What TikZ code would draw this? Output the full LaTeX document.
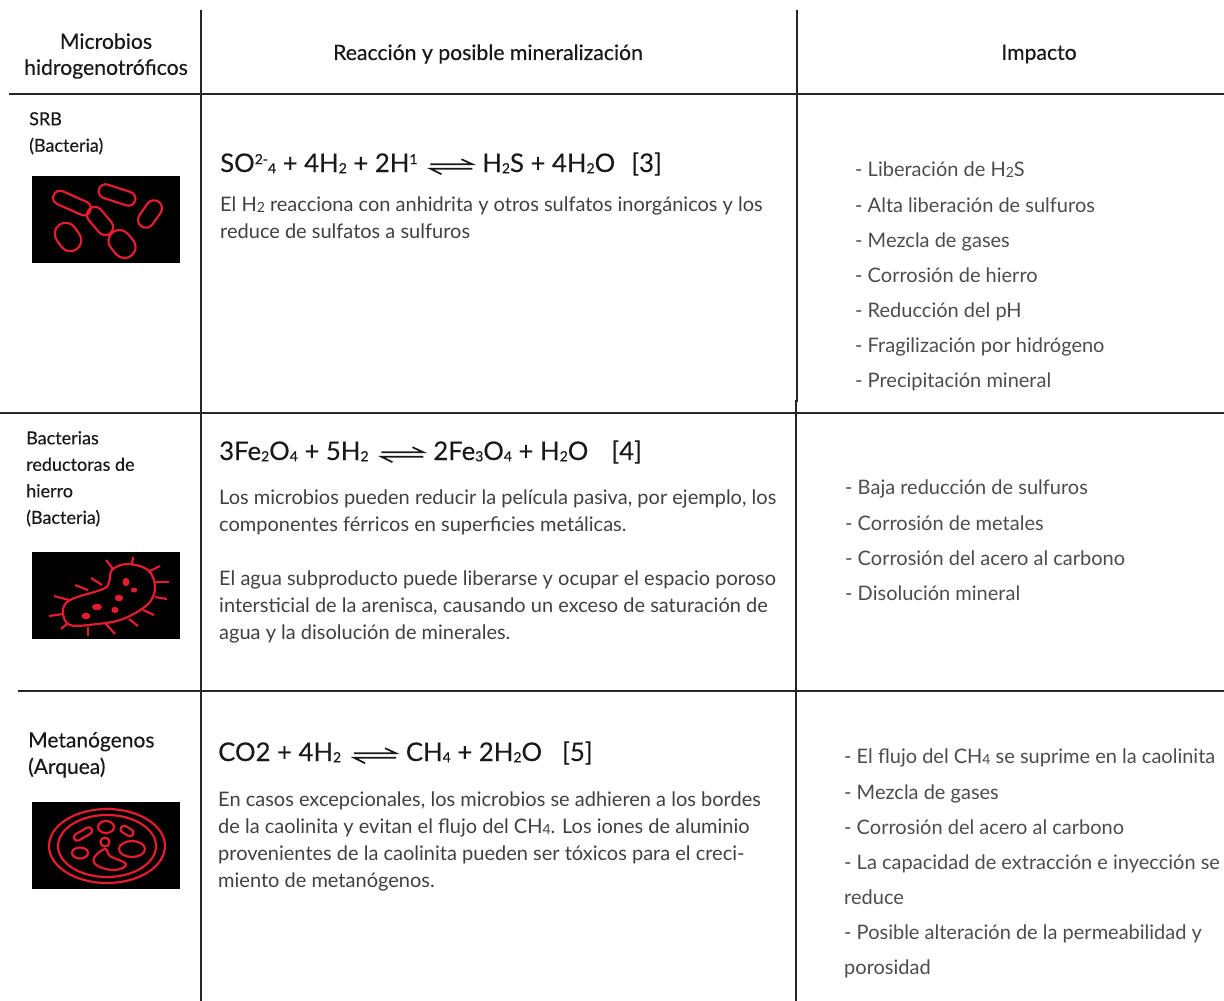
\documentclass[tikz,border=0pt]{standalone}
\usepackage{fontspec}
\setmainfont{Lato}
\definecolor{neon}{RGB}{228,28,48}
\tikzset{
 rule/.style={line width=1.7pt,draw=black!85},
 hdr/.style={font=\fontsize{21.2}{26}\selectfont\addfontfeature{FakeBold=0.4},text=black!90,align=center,inner sep=0},
 rowname/.style={font=\fontsize{18}{26.5}\selectfont\addfontfeature{FakeBold=0.3},text=black!90,align=left,anchor=north west,inner sep=0},
 eqn/.style={font=\fontsize{25.7}{28}\selectfont\addfontfeature{FakeBold=0.2},text=black!90,anchor=base west,inner sep=0},
 bodytext/.style={font=\fontsize{20}{27}\selectfont,text=black!75,align=left,anchor=north west,inner sep=0},
 imp/.style={font=\fontsize{20}{35.1}\selectfont,text=black!70,align=left,anchor=north west,inner sep=0},
 panel/.style={fill=black,draw=none,anchor=north west,minimum width=148pt,minimum height=87pt,inner sep=0},
 cell/.style={draw=neon,line width=2.2pt},
 spot/.style={fill=neon,draw=none},
}
\newcommand{\sbs}[1]{\raisebox{-0.1ex}{\fontsize{14}{14}\selectfont #1}}
\newcommand{\sps}[1]{\raisebox{0.6ex}{\fontsize{14}{14}\selectfont #1}}
\newcommand{\eqarrow}{\hspace{12pt}\tikz[baseline=-0.1ex,x=1pt,y=1pt,line width=1.7pt]{\draw (0,6.4)--(42,6.4)--(31,11.5); \draw (42,2)--(0,2)--(11,-3.5);}\hspace{9pt}}
\newcommand{\capsule}[5]{\begin{scope}[shift={(#1,#2)},rotate=#3]\draw[cell,rounded corners=#5pt] (-#4,-#5) rectangle (#4,#5);\end{scope}}
\begin{document}
\begin{tikzpicture}[x=1pt,y=-1pt]
\useasboundingbox (0,0) rectangle (1224,1001);
\coordinate (v1t) at (201,10); \coordinate (v1b) at (201,1001);
\coordinate (v2t) at (796.9,10); \coordinate (v2m) at (796.9,402);
\coordinate (v2n) at (796,400); \coordinate (v2b) at (796,1001);
\coordinate (h1l) at (9,94); \coordinate (h1r) at (1224,94);
\coordinate (h2l) at (0,413); \coordinate (h2r) at (1224,413);
\coordinate (h3l) at (18,691); \coordinate (h3r) at (1224,691);
\draw[rule] (v1t)--(v1b); \draw[rule] (v2t)--(v2m); \draw[rule] (v2n)--(v2b);
\draw[rule] (h1l)--(h1r); \draw[rule] (h2l)--(h2r); \draw[rule] (h3l)--(h3r);

\node[hdr] (h1) at (106,56) {Microbios\\hidrogenotróficos};
\node[hdr] (h2) at (488,54) {Reacción y posible mineralización};
\node[hdr] (h3) at (1039,54) {Impacto};

\node[rowname] (n1) at (29,112) {SRB\\(Bacteria)};
\node[rowname] (n2) at (26,431) {Bacterias\\reductoras de\\hierro\\(Bacteria)};
\node[rowname,font=\fontsize{21}{26.5}\selectfont\addfontfeature{FakeBold=0.3}] (n3) at (28,732) {Metanógenos\\(Arquea)};

% panel 1
\node[panel] (p1) at (32,176) {};
\begin{scope}[shift={(p1.north west)}]
\capsule{40}{27}{-24}{20}{7}
\capsule{85}{19}{-18}{19}{7}
\capsule{118}{38}{55}{15}{8}
\capsule{68}{45}{-50}{16}{8}
\capsule{90}{68}{-50}{15}{11}
\capsule{36}{61}{-55}{15}{11}
\end{scope}
% panel 2
\node[panel] (p2) at (32,552) {};
\begin{scope}[shift={(p2.north west)}]
\draw[cell] plot[smooth cycle,tension=0.6] coordinates {(71,37) (38,48) (31,60) (38,73) (65,72) (91,67) (116,52) (123,35) (116,18) (95,12) (80,18) (77,30)};
\foreach \a/\b in {{56,38}/{43,33}, {70,33}/{59,26}, {81,17}/{74,8}, {100,12}/{101,5}, {116,20}/{128,14}, {123,30}/{137,30}, {123,45}/{135,47}, {37,48}/{22,44}, {31,62}/{17,64}, {36,71}/{29,77}, {56,75}/{56,84}, {74,72}/{83,82}, {97,67}/{106,74}, {111,58}/{122,63}}
  \draw[cell] (\a)--(\b);
\fill[spot] (94,30) ellipse (3.5pt and 4.2pt);
\fill[spot] (102,38) ellipse (3.3pt and 2.5pt);
\fill[spot] (87,46) ellipse (4.2pt and 3.4pt);
\fill[spot] (83,58) ellipse (3.7pt and 3.2pt);
\fill[spot] (65,55) ellipse (5pt and 3.3pt);
\fill[spot] (54,64) ellipse (4.5pt and 3.3pt);
\end{scope}
% panel 3
\node[panel] (p3) at (32,802) {};
\begin{scope}[shift={(p3.north west)}]
\draw[cell] (75,44) ellipse (58pt and 37pt);
\draw[cell] (75,44) ellipse (49pt and 31pt);
\draw[cell] (74,25) ellipse (8pt and 6pt);
\draw[cell] (73,40) ellipse (4.5pt and 4.5pt);
\capsule{51}{32}{30}{10}{3.5}
\capsule{95}{29}{-30}{7}{3.5}
\draw[cell] (48,51) ellipse (8pt and 5.5pt);
\draw[cell] (100,47) ellipse (13pt and 8pt);
\draw[cell] plot[smooth cycle,tension=0.7] coordinates {(73,47) (78,54) (94,62) (83,68) (66,64) (62,56)};
\end{scope}

% row 1
\node[eqn] (e1) at (220,172) {SO\sps{2-}\sbs{4} + 4H\sbs{2} + 2H\sps{1}\eqarrow{}H\sbs{2}S + 4H\sbs{2}O\hspace{16pt}[3]};
\node[bodytext] (b1) at (220,197) {El H\sbs{2} reacciona con anhidrita y otros sulfatos inorgánicos y los\\reduce de sulfatos a sulfuros};
\node[imp] (i1) at (855,162) {- Liberación de H\sbs{2}S\\- Alta liberación de sulfuros\\- Mezcla de gases\\- Corrosión de hierro\\- Reducción del pH\\- Fragilización por hidrógeno\\- Precipitación mineral};
% row 2
\node[eqn] (e2) at (219,460) {3Fe\sbs{2}O\sbs{4} + 5H\sbs{2}\eqarrow{}2Fe\sbs{3}O\sbs{4} + H\sbs{2}O\hspace{23pt}[4]};
\node[bodytext] (b2) at (219,490) {Los microbios pueden reducir la película pasiva, por ejemplo, los\\componentes férricos en superficies metálicas.\\[27pt]El agua subproducto puede liberarse y ocupar el espacio poroso\\intersticial de la arenisca, causando un exceso de saturación de\\agua y la disolución de minerales.};
\node[imp] (i2) at (845,480) {- Baja reducción de sulfuros\\- Corrosión de metales\\- Corrosión del acero al carbono\\- Disolución mineral};
% row 3
\node[eqn] (e3) at (218,761) {CO2 + 4H\sbs{2}\eqarrow{}CH\sbs{4} + 2H\sbs{2}O\hspace{20pt}[5]};
\node[bodytext] (b3) at (218,792) {En casos excepcionales, los microbios se adhieren a los bordes\\de la caolinita y evitan el flujo del CH\sbs{4}. Los iones de aluminio\\provenientes de la caolinita pueden ser tóxicos para el creci-\\miento de metanógenos.};
\node[imp] (i3) at (844,749) {- El flujo del CH\sbs{4} se suprime en la caolinita\\- Mezcla de gases\\- Corrosión del acero al carbono\\- La capacidad de extracción e inyección se\\reduce\\- Posible alteración de la permeabilidad y\\porosidad};
\end{tikzpicture}
\end{document}
